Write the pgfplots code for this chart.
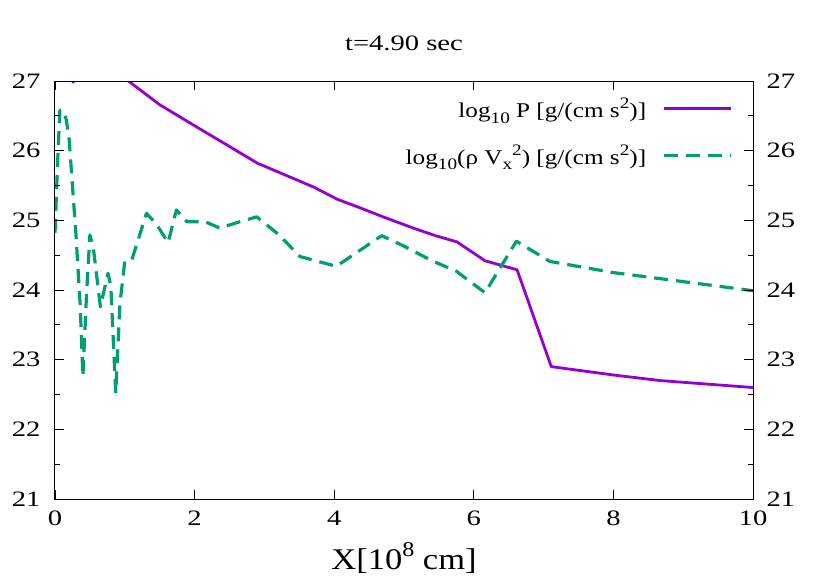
\documentclass[border=0pt]{standalone}
\usepackage{fontspec}
\setmainfont{Liberation Serif}[FakeStretch=1.3]
\newfontfamily\lgfont{Liberation Serif}[FakeStretch=1.2]
\newfontfamily\xlfont{Liberation Serif}[FakeStretch=1.15]
\usepackage{pgfplots}
\pgfplotsset{compat=1.18}
\definecolor{gpviolet}{HTML}{9400D3}
\definecolor{gpgreen}{HTML}{009E73}
\newcommand{\sups}[1]{\raisebox{0.42em}{\fontsize{16}{16}\selectfont #1}}
\newcommand{\subs}[1]{\raisebox{-0.28em}{\fontsize{16}{16}\selectfont #1}}
\begin{document}
\begin{tikzpicture}
\pgfplotsset{
  every axis/.append style={
    scale only axis, width=698pt, height=418pt,
    xmin=0, xmax=10, ymin=21, ymax=27,
    xtick={0,2,4,6,8,10}, ytick={21,22,...,27},
    minor y tick num=1,
    tick align=inside,
    major tick length=9pt, minor tick length=5pt,
    axis line style={line width=1pt},
    every tick/.style={line width=0.8pt, black},
    /pgf/number format/assume math mode=true,
    tick label style={font=\fontsize{22}{25}\selectfont},
  }
}
\begin{axis}[
  yticklabel pos=left,
  xticklabel style={yshift=-8pt},
  yticklabel style={xshift=-11pt},
  title={t=4.90 sec},
  title style={font=\fontsize{22}{26}\selectfont, yshift=21pt},
  xlabel={\xlfont X[10\raisebox{0.45em}{\fontsize{21}{21}\selectfont 8} cm]},
  xlabel style={font=\fontsize{30}{34}\selectfont, yshift=-10pt},
  legend plot pos=right,
  legend cell align=right,
  legend style={at={(rel axis cs:0.975,0.97)}, anchor=north east, draw=none, fill=none,
    font=\lgfont\fontsize{21}{24}\selectfont, row sep=22pt,
    /tikz/every odd column/.append style={column sep=14pt}},
  legend image code/.code={\draw[#1] (0pt,0pt) -- (67pt,0pt);},
]
\addplot[gpviolet, line width=2.8pt, line join=round] coordinates {
(0.20,27.5)(0.26,26.98)(0.32,27.6)(0.6,27.8)(1.05,27.0)(1.5,26.66)(2.03,26.34)(2.4,26.12)(2.65,25.97)(2.9,25.82)(3.3,25.65)(3.7,25.48)(4.05,25.30)(4.37,25.18)(4.7,25.05)(5.13,24.89)(5.45,24.78)(5.76,24.69)(6.16,24.42)(6.62,24.29)(7.11,22.90)(8.0,22.78)(8.67,22.70)(10,22.60)
};
\addlegendentry{log\subs{10} P [g/(cm s\sups{2})]}
\addplot[gpgreen, line width=3.2pt, dash pattern=on 14pt off 8pt, line join=round] coordinates {
(0.0,24.82)(0.04,25.9)(0.07,26.58)(0.12,26.58)(0.16,26.45)(0.2,26.2)(0.3,24.8)(0.36,23.8)(0.40,22.76)(0.45,23.9)(0.50,24.79)(0.55,24.6)(0.65,23.76)(0.76,24.24)(0.80,24.05)(0.87,22.52)(0.93,23.8)(1.0,24.41)(1.1,24.43)(1.31,25.1)(1.45,24.95)(1.62,24.68)(1.74,25.15)(1.89,24.98)(2.15,24.98)(2.36,24.89)(2.65,24.98)(2.89,25.05)(3.2,24.8)(3.51,24.48)(4.03,24.34)(4.68,24.78)(5.0,24.63)(5.4,24.42)(5.75,24.27)(6.16,23.96)(6.61,24.70)(7.09,24.41)(8.0,24.25)(9.0,24.12)(10,23.99)
};
\addlegendentry{log\subs{10}(ρ V\subs{x}\sups{2}) [g/(cm s\sups{2})]}
\end{axis}
\begin{axis}[
  yticklabel pos=right,
  yticklabel style={xshift=10pt},
  xticklabels={},
]
\end{axis}
\pgfresetboundingbox
\path[use as bounding box] (-55pt,-82pt) rectangle (775pt,499pt);
\end{tikzpicture}
\end{document}
